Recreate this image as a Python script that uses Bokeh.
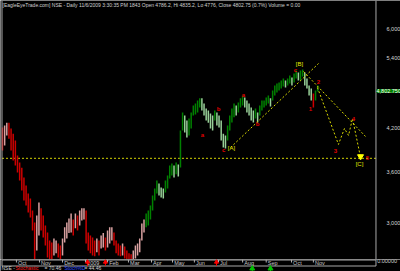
from bokeh.plotting import figure
from bokeh.models import Range1d, Label, Span, ColumnDataSource
from bokeh.layouts import column
from bokeh.embed import file_html
from bokeh.resources import INLINE
from bokeh.core.properties import value

FONT = "Liberation Sans"

# ---------------- data ----------------
title_text = ("[EagleEyeTrade.com] NSE - Daily 11/6/2009 3:30:35 PM 1843 Open 4786.2, "
              "Hi 4835.2, Lo 4776, Close 4802.75 (0.7%) Volume = 0.00")
last_close = 4802.75

# one bar per two trading sessions, Sep 2008 .. Nov 2009 (x = trading-day index)
bar_t = list(range(0, 296, 2))
bar_high = [
    4215, 4245, 4285, 4285, 4200, 4120, 4024, 3814, 3720, 3650,
    3525, 3426, 3330, 3270, 3134, 3002, 3078, 3225, 3157, 3078,
    2970, 2897, 2815, 2795, 2835, 2815, 2785, 2765, 2835, 2950,
    3002, 3045, 3100, 3035, 3100, 3078, 3134, 3157, 3157, 3134,
    2897, 2866, 2845, 2815, 2835, 2815, 2866, 2890, 2845, 2918,
    2950, 2950, 2897, 2815, 2785, 2765, 2785, 2755, 2716, 2690,
    2680, 2716, 2765, 2785, 2835, 2990, 3035, 3100, 3134, 3190,
    3306, 3390, 3488, 3450, 3400, 3390, 3488, 3551, 3680, 3707,
    3680, 3720, 3693, 4170, 4447, 4400, 4322, 4353, 4447, 4560,
    4593, 4642, 4677, 4677, 4593, 4511, 4479, 4430, 4400, 4479,
    4447, 4400, 4322, 4120, 4096, 4245, 4400, 4511, 4593, 4560,
    4609, 4677, 4726, 4693, 4642, 4593, 4528, 4479, 4511, 4447,
    4560, 4642, 4642, 4693, 4726, 4677, 4810, 4897, 4932, 4950,
    4985, 5020, 4985, 5020, 5075, 5040, 5112, 5166, 5130, 5166,
    5185, 5130, 5020, 4897, 4845, 4760, 4810, 4897]
bar_low = [
    3883, 3953, 4096, 4050, 3883, 3746, 3680, 3590, 3488, 3366,
    3248, 3190, 3112, 3056, 2918, 2600, 2716, 2866, 2918, 2845,
    2765, 2650, 2600, 2610, 2668, 2690, 2650, 2610, 2668, 2795,
    2835, 2890, 2897, 2866, 2940, 2918, 2970, 3024, 3035, 2785,
    2716, 2690, 2668, 2660, 2700, 2668, 2735, 2745, 2716, 2745,
    2785, 2815, 2765, 2690, 2668, 2660, 2668, 2640, 2610, 2580,
    2580, 2600, 2640, 2668, 2700, 2815, 2897, 2950, 2970, 3035,
    3134, 3248, 3330, 3306, 3282, 3270, 3340, 3390, 3513, 3551,
    3525, 3565, 3538, 3653, 4170, 4140, 4068, 4096, 4200, 4400,
    4415, 4447, 4528, 4479, 4400, 4322, 4285, 4200, 4170, 4322,
    4245, 4215, 4024, 3925, 3911, 4024, 4170, 4292, 4370, 4400,
    4447, 4528, 4560, 4528, 4447, 4400, 4322, 4292, 4353, 4292,
    4400, 4479, 4528, 4560, 4593, 4544, 4642, 4726, 4775, 4810,
    4845, 4880, 4862, 4897, 4932, 4897, 4950, 5020, 4985, 4985,
    5057, 4897, 4845, 4726, 4642, 4528, 4642, 4792]
bear_phase_end_t = 133          # bars before this are drawn in the red scheme
red_signal_bars_t = [290]        # the sharp drop bar coloured red

y_ticks = [3000, 3600, 4200, 5400, 6000]
month_t = [13, 34.5, 56, 77.4, 98, 117.5, 139, 158.6, 179, 201.5, 224, 246, 269.6, 290]
month_labels = ["Oct", "Nov", "Dec", "2009", "Feb", "Mar", "Apr", "May", "Jun",
                "Jul", "Aug", "Sep", "Oct", "Nov"]

wave_labels = ["a", "b", "c", "a", "b", "c", "1", "2", "3", "4", "5"]
wave_t = [186.6, 201.5, 206.2, 224.8, 237.9, 273.3, 287.3, 294.8, 310.6, 327.4, 340.5]
wave_price = [4096, 4495, 3883, 4726, 4260, 5184, 4495, 4967, 3869, 4338, 3786]

major_labels = ["[A]", "[B]", "[C]"]
major_t = [213.6, 277, 333]
major_price = [3911, 5279, 3700]

trend_a_t = [212.7, 294.8]
trend_a_p = [3923, 5297]
trend_b_t = [280.8, 338.6]
trend_b_p = [5148, 4082]
proj_t = [293.8, 313.4, 319, 322.8, 326.5, 334]
proj_p = [4862, 3967, 4200, 4096, 4353, 3787]
target_t = [334]
target_p = [3800]
support_level = 3775

sell_signal_t = [79.3, 96, 199.6]
buy_signal_t = [233, 250]
stoch_k = 70.46
stoch_d = 44.46

# ---------------- horizontal frame (trading-day units) ----------------
T_LEFT, T_RIGHT = -1.866, 371.27      # full 400 px canvas width
T_BOX_L, T_BOX_R = -0.466, 348.4      # panel box edges
T_AXIS_LABEL = 358.2                  # price scale labels column
T_CLOSE_TAG = 348.9

# ---------------- colours per bar ----------------
colors = []
for i, t in enumerate(bar_t):
    mid = (bar_high[i] + bar_low[i]) / 2
    prev = (bar_high[i - 1] + bar_low[i - 1]) / 2 if i > 0 else mid
    up = mid > prev
    if t < bear_phase_end_t or t in red_signal_bars_t:
        colors.append("#d8a0a0" if up else "#cc0000")
    else:
        colors.append("#008000" if up else "#98d098")

src = ColumnDataSource(dict(t=bar_t, hi=bar_high, lo=bar_low, c=colors))

# ---------------- main price panel ----------------
p = figure(width=400, height=259, x_range=Range1d(T_LEFT, T_RIGHT),
           y_range=Range1d(2630, 6634), y_axis_type="log",
           y_axis_location=None, x_axis_location=None,
           output_backend="svg", toolbar_location=None, min_border=0,
           background_fill_color="black", border_fill_color="black",
           outline_line_color=None)
p.grid.visible = False

for loc in (T_BOX_L, T_BOX_R):
    p.add_layout(Span(location=loc, dimension="height", line_color="#a8a8a8", line_width=1))

p.segment(x0=[T_BOX_L], y0=[support_level], x1=[T_BOX_R], y1=[support_level],
          line_color="#d0d000", line_dash="2 2", line_width=1)

p.segment(x0="t", y0="lo", x1="t", y1="hi", line_color="c", line_width=1.5, source=src)

ycol = "#d8d800"
p.line(trend_a_t, trend_a_p, line_color=ycol, line_dash="2 2", line_width=1)
p.line(trend_b_t, trend_b_p, line_color=ycol, line_dash="2 2", line_width=1)
p.line(proj_t, proj_p, line_color=ycol, line_dash="2 2", line_width=1)
p.scatter(target_t, target_p, marker="inverted_triangle", size=6, fill_color="#ffff00",
          line_color="#ffff00")

p.text(x=wave_t, y=wave_price, text=wave_labels, text_color="#e00000",
       text_font=value(FONT), text_font_size="6px", text_font_style="bold",
       text_align="center", text_baseline="middle")
p.text(x=major_t, y=major_price, text=major_labels, text_color="#e8e800",
       text_font=value(FONT), text_font_size="6px",
       text_align="center", text_baseline="middle")

# price scale on the right
p.text(x=[T_AXIS_LABEL] * len(y_ticks), y=y_ticks, text=[f"{v:,}" for v in y_ticks],
       text_color="#d8d8d8", text_font=value(FONT), text_font_size="5.5px",
       text_align="left", text_baseline="middle")

p.add_layout(Label(x=T_CLOSE_TAG, y=last_close, text=f"{last_close:,.3f}",
                   text_font=FONT, text_font_size="5.5px", text_color="#ffffff",
                   text_baseline="middle", text_align="left",
                   background_fill_color="#008000"))

p.add_layout(Label(x=2, y=258, x_units="screen", y_units="screen", text=title_text,
                   text_font=FONT, text_font_size="5px", text_color="#d0d0d0",
                   text_baseline="top"))

# ---------------- date strip + indicator caption ----------------
s = figure(width=400, height=12, x_range=Range1d(T_LEFT, T_RIGHT), y_range=Range1d(12, 0),
           x_axis_location=None, y_axis_location=None,
           output_backend="svg", toolbar_location=None, min_border=0,
           background_fill_color="black", border_fill_color="black", outline_line_color=None)
s.grid.visible = False
s.segment(x0=[T_BOX_L, T_BOX_L], y0=[0.5, 6.5], x1=[T_BOX_R, T_BOX_R], y1=[0.5, 6.5],
          line_color="#a8a8a8", line_width=1)
s.segment(x0=[T_BOX_R, T_BOX_L], y0=[0, 0], x1=[T_BOX_R, T_BOX_L], y1=[6.5, 6.5],
          line_color="#a8a8a8", line_width=1)
s.segment(x0=month_t, y0=[0] * len(month_t), x1=month_t, y1=[3] * len(month_t),
          line_color="#b0b0b0", line_width=1)
s.text(x=[m + 1.5 for m in month_t], y=[3.7] * len(month_t), text=month_labels,
       text_color="#c8c8c8", text_font=value(FONT), text_font_size="5.5px",
       text_align="left", text_baseline="middle")
s.text(x=[349.5], y=[1.5], text=["0.00000"], text_color="#d0d0d0", text_font=value(FONT),
       text_font_size="5.5px", text_align="left", text_baseline="middle")

s.segment(x0=sell_signal_t, y0=[0] * 3, x1=sell_signal_t, y1=[6.5] * 3,
          line_color="#ff0000", line_width=1)
s.scatter(sell_signal_t, [2.5] * 3, marker="triangle", size=4, fill_color="#ff0000",
          line_color="#ff0000")
s.segment(x0=buy_signal_t, y0=[8.5] * 2, x1=buy_signal_t, y1=[12] * 2,
          line_color="#00c000", line_width=1)
s.scatter(buy_signal_t, [9] * 2, marker="triangle", size=5, fill_color="#00c000",
          line_color="#00c000")

caption = [("NSE - ", 1, "#d0d0d0"), ("Stochastic", 15, "#ff2020"),
           (f"= {stoch_k:.2f}", 44, "#d0d0d0"), ("Stoch%D", 64, "#3050ff"),
           (f"= {stoch_d:.2f}", 84, "#d0d0d0")]
for txt, xx, col in caption:
    s.add_layout(Label(x=xx, y=0.3, x_units="screen", y_units="screen", text=txt,
                       text_font=FONT, text_font_size="5px", text_color=col,
                       text_baseline="bottom"))

layout = column(p, s, spacing=0)
open("out.html", "w").write(file_html(layout, INLINE))
